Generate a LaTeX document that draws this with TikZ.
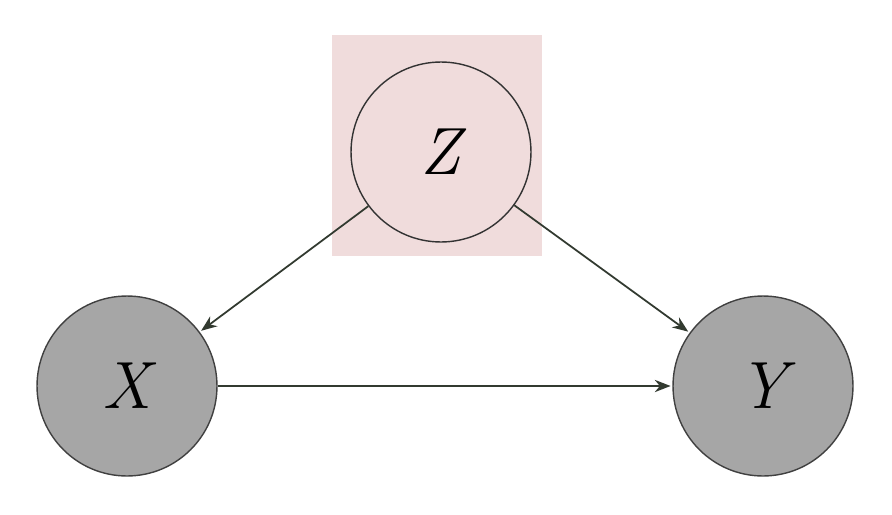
\documentclass[tikz,border=0pt]{standalone}
\usepackage{fontspec}
\usepackage{xcolor}
\usetikzlibrary{arrows.meta}
\definecolor{zpink}{RGB}{240,220,220}
\definecolor{obsgray}{RGB}{166,166,166}
\definecolor{edgegray}{RGB}{50,58,48}
\tikzset{
latentNode/.style={circle, draw=black!80, line width=0.8pt, fill=zpink,
    minimum size=3.6cm, inner sep=0pt, font=\fontsize{38}{42}\selectfont\itshape},
observedNode/.style={latentNode, fill=obsgray, draw=black!75},
causeArrow/.style={-{Stealth[length=9pt,width=7pt]}, draw=edgegray, line width=1pt, shorten >=1pt}
}
\begin{document}
\begin{tikzpicture}[x=0.02cm, y=-0.02cm]
    \useasboundingbox (0,0) rectangle (892,514);
    \fill[white] (0,0) rectangle (892,514);
    \fill[zpink] (332,35) rectangle (542,256);
    \node[latentNode] (z) at (441,152) {Z};
    \node[observedNode] (x) at (127,386) {X};
    \node[observedNode] (y) at (763,386) {Y};
    \draw[causeArrow] (z) -- (x);
    \draw[causeArrow] (z) -- (y);
    \draw[causeArrow] (x) -- (y);
\end{tikzpicture}
\end{document}
